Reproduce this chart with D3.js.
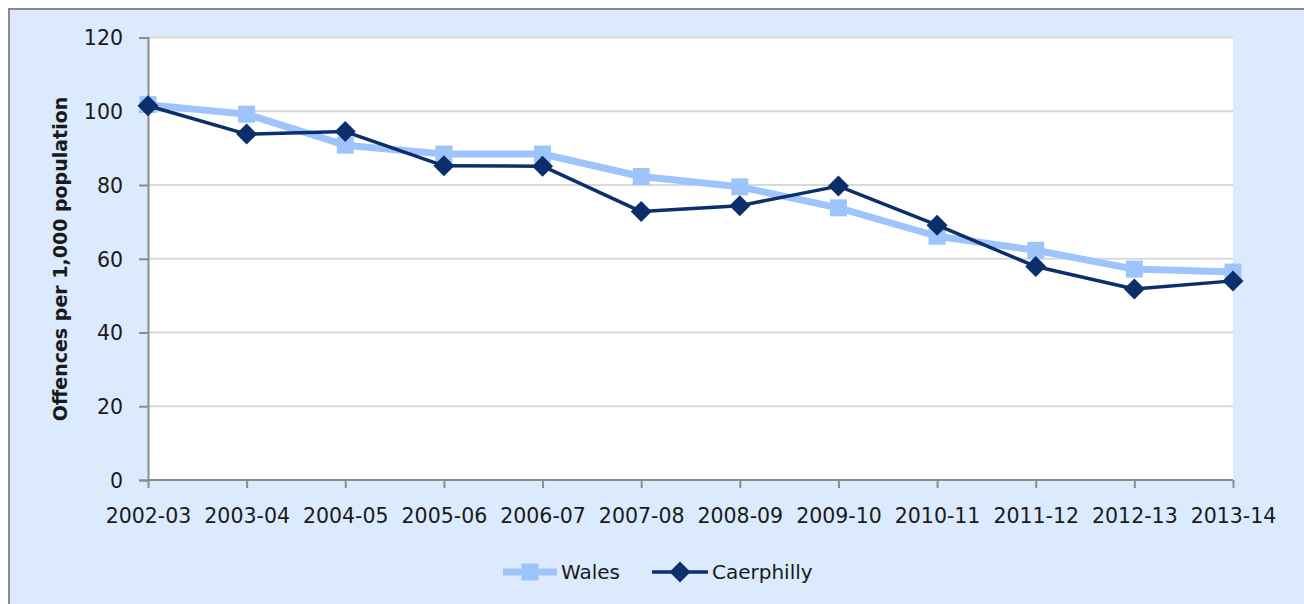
<!DOCTYPE html>
<html>
<head>
<meta charset="utf-8">
<script src="https://cdn.jsdelivr.net/npm/d3@7"></script>
<style>
  html, body { margin: 0; padding: 0; background: #ffffff; }
  svg { display: block; }
  text { font-family: "DejaVu Sans", Verdana, sans-serif; fill: #1a1a1a; }
</style>
</head>
<body>
<svg id="chart" width="1304" height="604"></svg>
<script>
// Recorded crime rate, offences per 1,000 population
const years = ["2002-03", "2003-04", "2004-05", "2005-06", "2006-07", "2007-08",
               "2008-09", "2009-10", "2010-11", "2011-12", "2012-13", "2013-14"];
const wales = [101.8, 99.2, 90.8, 88.4, 88.4, 82.3, 79.5, 73.8, 66.1, 62.3, 57.2, 56.4];
const caerphilly = [101.5, 93.8, 94.5, 85.2, 85.1, 72.8, 74.4, 79.7, 69.1, 57.9, 51.8, 54.0];
const yTicks = [0, 20, 40, 60, 80, 100, 120];

const seriesList = [
  { name: "Wales", values: wales, color: "#9ec5fb", width: 7, marker: "square" },
  { name: "Caerphilly", values: caerphilly, color: "#0c2f6c", width: 3.5, marker: "diamond" }
];

const svg = d3.select("#chart");

// Chart frame
svg.append("rect")
  .attr("x", 9).attr("y", 9).attr("width", 1310).attr("height", 610)
  .attr("fill", "#dceafd").attr("stroke", "#8a8a8a").attr("stroke-width", 2);

const plot = { left: 148, right: 1233, top: 37.5, bottom: 480 };

const x = d3.scalePoint().domain(years).range([plot.left, plot.right]);
const y = d3.scaleLinear().domain([0, 120]).range([plot.bottom, plot.top]);

// Plot area
svg.append("rect")
  .attr("x", plot.left).attr("y", plot.top)
  .attr("width", plot.right - plot.left).attr("height", plot.bottom - plot.top)
  .attr("fill", "#ffffff");

// Horizontal gridlines
svg.append("g")
  .selectAll("line")
  .data(yTicks.filter(d => d > 0))
  .join("line")
  .attr("x1", plot.left).attr("x2", plot.right)
  .attr("y1", d => y(d)).attr("y2", d => y(d))
  .attr("stroke", "#d9d9d9").attr("stroke-width", 2);

// Y axis
const yAxis = svg.append("g")
  .attr("transform", `translate(${plot.left},0)`)
  .call(d3.axisLeft(y).tickValues(yTicks).tickSize(9).tickPadding(16).tickFormat(d3.format("d")));
yAxis.select(".domain").attr("stroke", "#8c8c8c").attr("stroke-width", 2);
yAxis.selectAll(".tick line").attr("stroke", "#8c8c8c").attr("stroke-width", 2);
yAxis.selectAll(".tick text")
  .attr("font-size", "20.5px").attr("font-family", "DejaVu Sans, sans-serif")
  .attr("fill", "#1a1a1a").attr("dy", "0.36em");

// X axis
const xAxis = svg.append("g")
  .attr("transform", `translate(0,${plot.bottom})`)
  .call(d3.axisBottom(x).tickSize(8).tickPadding(20));
xAxis.select(".domain").attr("stroke", "#8c8c8c").attr("stroke-width", 2)
  .attr("d", `M${plot.left},0H${plot.right}`);
xAxis.selectAll(".tick line").attr("stroke", "#8c8c8c").attr("stroke-width", 2);
xAxis.selectAll(".tick text")
  .attr("font-size", "20.5px").attr("font-family", "DejaVu Sans, sans-serif")
  .attr("fill", "#1a1a1a");

// Y axis title
svg.append("text")
  .attr("transform", `translate(67,${(95 + 423) / 2}) rotate(-90)`)
  .attr("text-anchor", "middle")
  .attr("font-size", "19px").attr("font-weight", "bold")
  .text("Offences per 1,000 population");

const line = d3.line().x((d, i) => x(years[i])).y(d => y(d));

function drawMarker(g, type, cx, cy, color) {
  if (type === "square") {
    g.append("rect")
      .attr("x", cx - 8.5).attr("y", cy - 8.5)
      .attr("width", 17).attr("height", 17)
      .attr("fill", color);
  } else {
    const r = 10.5;
    g.append("path")
      .attr("d", `M${cx},${cy - r}L${cx + r},${cy}L${cx},${cy + r}L${cx - r},${cy}Z`)
      .attr("fill", color);
  }
}

seriesList.forEach(s => {
  const g = svg.append("g");
  g.append("path")
    .datum(s.values)
    .attr("d", line)
    .attr("fill", "none")
    .attr("stroke", s.color)
    .attr("stroke-width", s.width)
    .attr("stroke-linejoin", "round");
  s.values.forEach((v, i) => drawMarker(g, s.marker, x(years[i]), y(v), s.color));
});

// Legend
const legendY = 572;
const legendItems = [
  { s: seriesList[0], x0: 503, x1: 557, tx: 561 },
  { s: seriesList[1], x0: 652, x1: 708, tx: 712 }
];
legendItems.forEach(item => {
  const g = svg.append("g");
  g.append("line")
    .attr("x1", item.x0).attr("x2", item.x1)
    .attr("y1", legendY).attr("y2", legendY)
    .attr("stroke", item.s.color).attr("stroke-width", item.s.width);
  drawMarker(g, item.s.marker, (item.x0 + item.x1) / 2, legendY, item.s.color);
  g.append("text")
    .attr("x", item.tx).attr("y", legendY)
    .attr("dy", "0.36em")
    .attr("font-size", "20px")
    .text(item.s.name);
});
</script>
</body>
</html>
